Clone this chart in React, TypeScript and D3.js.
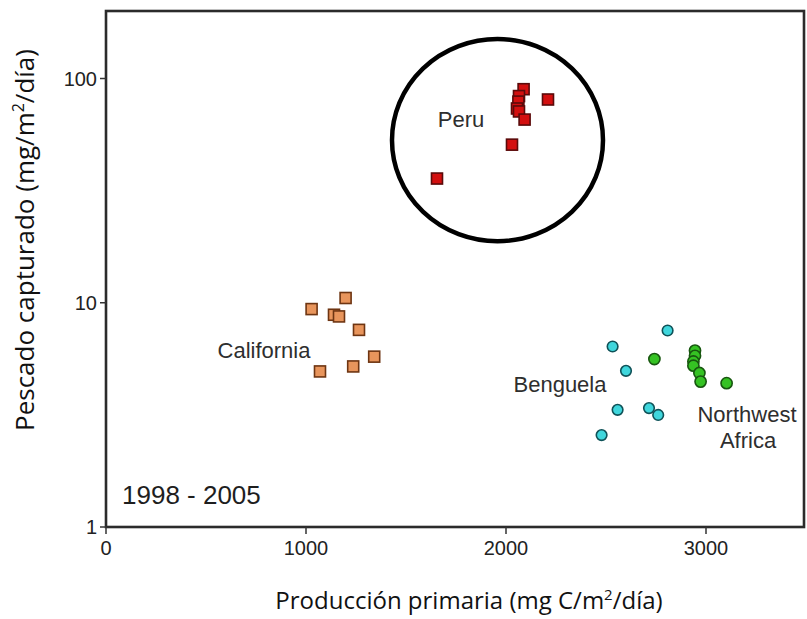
import React from "react";
import * as d3 from "d3";

// Peru upwelling system (red squares)
const peruX = [1655, 2030, 2088, 2065, 2062, 2055, 2065, 2093, 2210];
const peruY = [35.8, 50.7, 89.6, 83.5, 78.9, 73.5, 71.3, 65.6, 80.6];

// California (orange squares)
const californiaX = [1198, 1028, 1140, 1165, 1265, 1341, 1236, 1070];
const californiaY = [10.5, 9.37, 8.84, 8.69, 7.57, 5.75, 5.2, 4.94];

// Benguela (cyan circles)
const benguelaX = [2808, 2533, 2600, 2558, 2715, 2761, 2478];
const benguelaY = [7.52, 6.38, 4.97, 3.33, 3.39, 3.16, 2.57];

// Northwest Africa (green circles)
const nwAfricaX = [2742, 2945, 2945, 2937, 2937, 2967, 2973, 3103];
const nwAfricaY = [5.61, 6.12, 5.8, 5.47, 5.24, 4.86, 4.45, 4.38];

const xTicks = [0, 1000, 2000, 3000];
const yTicks = [1, 10, 100];

// region labels, anchored in data space
const labelText = ["Peru", "California", "Benguela", "Northwest", "Africa"];
const labelX = [1775, 790, 2270, 3205, 3210];
const labelY = [60.8, 5.67, 4.0, 2.94, 2.25];

const periodText = "1998 - 2005";
const periodX = 80;
const periodY = 1.266;

// highlighted area around the Peru cluster
const ringX = [1430, 2485];
const ringY = [18.8, 150];

const W = 807;
const H = 619;

export default function App() {
  const x = d3.scaleLinear().domain([0, 3500]).range([106, 806]);
  const y = d3.scaleLog().domain([1, 200]).range([527, 11]);

  const sq = 11;
  const sansFont = "'Liberation Sans', Arial, Helvetica, sans-serif";
  const titleFont = "'Open Sans', Lato, sans-serif";

  const ringCx = (x(ringX[0]) + x(ringX[1])) / 2;
  const ringCy = (y(ringY[0]) + y(ringY[1])) / 2;
  const ringRx = (x(ringX[1]) - x(ringX[0])) / 2;
  const ringRy = (y(ringY[0]) - y(ringY[1])) / 2;

  return (
    <svg
      width={W}
      height={H}
      style={{ position: "absolute", left: 0, top: 0, background: "#fff" }}
    >
      <rect x={0} y={0} width={W} height={H} fill="#fff" />

      {/* plot frame */}
      <rect
        x={x(0)}
        y={y(200)}
        width={x(3500) - x(0) - 2}
        height={y(1) - y(200)}
        fill="#fff"
        stroke="#2b2b2b"
        strokeWidth={2.6}
      />

      {/* y axis ticks */}
      {yTicks.map((t) => (
        <g key={"y" + t}>
          <line x1={x(0) - 6} x2={x(0)} y1={y(t)} y2={y(t)} stroke="#333" strokeWidth={1.5} />
          <text
            x={x(0) - 9}
            y={y(t)}
            dy="0.35em"
            textAnchor="end"
            fontFamily={sansFont}
            fontSize={20}
            fill="#222"
          >
            {t}
          </text>
        </g>
      ))}

      {/* x axis ticks */}
      {xTicks.map((t) => (
        <g key={"x" + t}>
          <line x1={x(t)} x2={x(t)} y1={y(1)} y2={y(1) + 7} stroke="#333" strokeWidth={1.5} />
          <text
            x={x(t)}
            y={y(1) + 28}
            textAnchor="middle"
            fontFamily={sansFont}
            fontSize={20}
            fill="#222"
          >
            {t}
          </text>
        </g>
      ))}

      {/* California */}
      {californiaX.map((v, i) => (
        <rect
          key={"c" + i}
          x={x(v) - sq / 2}
          y={y(californiaY[i]) - sq / 2}
          width={sq}
          height={sq}
          fill="#e8955c"
          stroke="#6e3512"
          strokeWidth={1.6}
        />
      ))}

      {/* Peru */}
      {peruX.map((v, i) => (
        <rect
          key={"p" + i}
          x={x(v) - sq / 2}
          y={y(peruY[i]) - sq / 2}
          width={sq}
          height={sq}
          fill="#d30f0f"
          stroke="#5a0a0a"
          strokeWidth={1.6}
        />
      ))}

      {/* Benguela */}
      {benguelaX.map((v, i) => (
        <circle
          key={"b" + i}
          cx={x(v)}
          cy={y(benguelaY[i])}
          r={5.3}
          fill="#3fd6dc"
          stroke="#0f5258"
          strokeWidth={1.6}
        />
      ))}

      {/* Northwest Africa */}
      {nwAfricaX.map((v, i) => (
        <circle
          key={"n" + i}
          cx={x(v)}
          cy={y(nwAfricaY[i])}
          r={5.6}
          fill="#35c223"
          stroke="#17560f"
          strokeWidth={1.6}
        />
      ))}

      {/* region labels */}
      {labelText.map((s, i) => (
        <text
          key={"l" + i}
          x={x(labelX[i])}
          y={y(labelY[i])}
          textAnchor="middle"
          fontFamily={sansFont}
          fontSize={22}
          fill="#2e2e2e"
        >
          {s}
        </text>
      ))}

      <text
        x={x(periodX)}
        y={y(periodY)}
        fontFamily={sansFont}
        fontSize={26}
        fill="#1e1e1e"
      >
        {periodText}
      </text>

      {/* ring around the Peru points */}
      <ellipse
        cx={ringCx}
        cy={ringCy}
        rx={ringRx}
        ry={ringRy}
        fill="none"
        stroke="#000"
        strokeWidth={4.5}
      />

      {/* axis titles */}
      <text
        x={469}
        y={609}
        textAnchor="middle"
        fontFamily={titleFont}
        fontSize={24}
        fill="#111"
      >
        Producción primaria (mg C/m
        <tspan fontSize={15} dy={-9}>2</tspan>
        <tspan dy={9}>/día)</tspan>
      </text>
      <text
        transform={`translate(34, 240) rotate(-90)`}
        textAnchor="middle"
        fontFamily={titleFont}
        fontSize={26}
        fill="#111"
      >
        Pescado capturado (mg/m
        <tspan fontSize={16} dy={-10}>2</tspan>
        <tspan dy={10}>/día)</tspan>
      </text>
    </svg>
  );
}
